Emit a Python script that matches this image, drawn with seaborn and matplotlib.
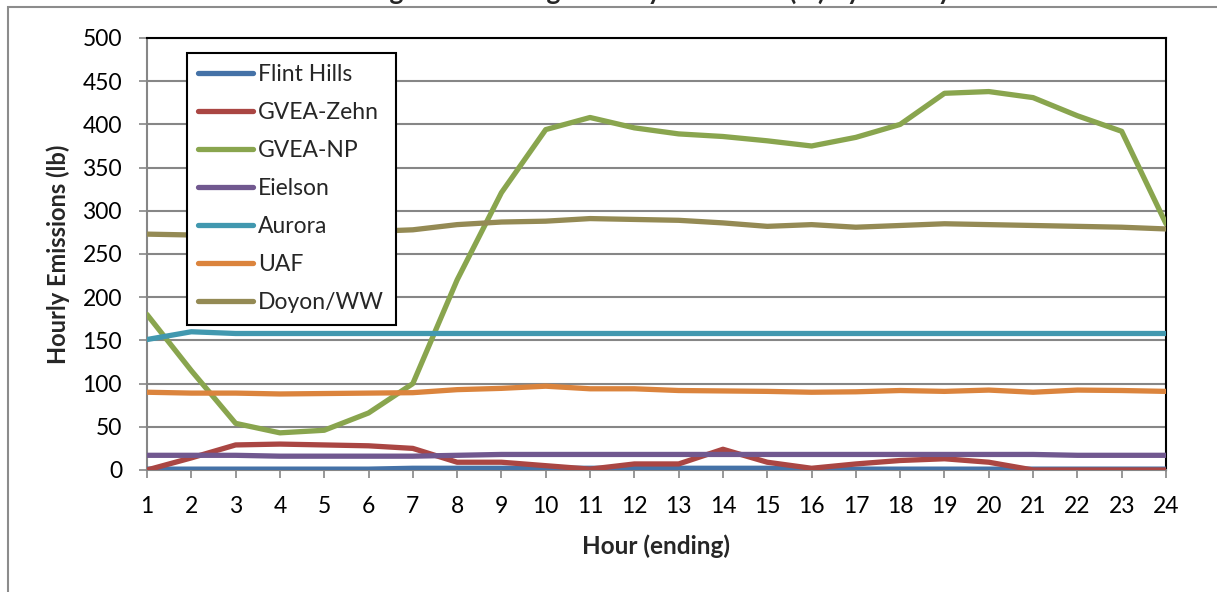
import pandas as pd
import seaborn as sns
import matplotlib.pyplot as plt
from matplotlib.patches import Rectangle

# ===============================
# Data
# ===============================

hours = list(range(1, 25))

flint_hills = [1, 1, 1, 1, 1, 1, 2, 2, 2, 2, 2, 2, 2, 2, 2, 1, 1, 1, 1, 1, 1, 1, 1, 1]
gvea_zehn = [0, 14, 29, 30, 29, 28, 25, 9, 9, 5, 1, 7, 7, 24, 9, 2, 7, 11, 13, 9, 0, 0, 0, 0]
gvea_np = [180, 115, 54, 43, 46, 66, 100, 220, 321, 394, 408, 396, 389, 386, 381, 375,
           385, 400, 436, 438, 431, 410, 392, 285]
eielson = [17, 17, 17, 16, 16, 16, 16, 17, 18, 18, 18, 18, 18, 18, 18, 18,
           18, 18, 18, 18, 18, 17, 17, 17]
aurora = [151, 160, 158, 158, 158, 158, 158, 158, 158, 158, 158, 158, 158, 158, 158, 158,
          158, 158, 158, 158, 158, 158, 158, 158]
uaf = [90, 89, 89, 88, 88.5, 89, 89.5, 93, 94.5, 97, 94, 94, 92, 91.5, 91, 90,
       90.5, 92, 91, 92.5, 90, 92.5, 92, 91]
doyon_ww = [273, 272, 272, 273, 274, 276, 278, 284, 287, 288, 291, 290, 289, 286, 282, 284,
            281, 283, 285, 284, 283, 282, 281, 279]

facilities = ["Flint Hills", "GVEA-Zehn", "GVEA-NP", "Eielson", "Aurora", "UAF", "Doyon/WW"]
series = [flint_hills, gvea_zehn, gvea_np, eielson, aurora, uaf, doyon_ww]
colors = ["#4572A7", "#AA4643", "#89A54E", "#71588F", "#4198AF", "#DB843D", "#948A54"]

rows = []
for name, vals in zip(facilities, series):
    for h, v in zip(hours, vals):
        rows.append({"Hour": h, "Emissions": v, "Facility": name})
data = pd.DataFrame(rows)

# ===============================
# Plot
# ===============================

sns.set_style("white")
plt.rcParams["font.family"] = ["Lato", "DejaVu Sans"]

fig = plt.figure(figsize=(12.17, 5.92), dpi=100)
ax = fig.add_axes([147 / 1217, 1 - 470 / 592, (1166 - 147) / 1217, (470 - 38) / 592])

sns.lineplot(data=data, x="Hour", y="Emissions", hue="Facility", hue_order=facilities,
             palette=colors, linewidth=3.8, ax=ax, zorder=3)

grid_col = "#868686"
ax.set_xlim(1, 24)
ax.set_ylim(0, 500)
ax.set_xticks(hours)
ax.set_yticks(range(0, 501, 50))
ax.yaxis.grid(True, color=grid_col, linewidth=1.5)
ax.xaxis.grid(False)
ax.set_axisbelow(True)

ax.tick_params(axis="both", direction="out", length=6, width=1.2, color=grid_col,
               labelsize=16.5, labelcolor="black")
ax.tick_params(axis="x", pad=13, bottom=True)
ax.tick_params(axis="y", pad=12, left=True)

for side in ["top", "right"]:
    ax.spines[side].set_color("black")
    ax.spines[side].set_linewidth(1.5)
for side in ["left", "bottom"]:
    ax.spines[side].set_color(grid_col)
    ax.spines[side].set_linewidth(1.5)

ax.set_xlabel("Hour (ending)", fontsize=17.5, fontweight="bold", labelpad=12)
ax.set_ylabel("Hourly Emissions (lb)", fontsize=17, fontweight="bold", labelpad=9)

leg = ax.legend(loc="upper left", bbox_to_anchor=(187 / 1217, 1 - 53 / 592),
                bbox_transform=fig.transFigure, fontsize=16.5, frameon=True, fancybox=False,
                edgecolor="black", framealpha=1, handlelength=2.4, handletextpad=0.2,
                labelspacing=0.74, borderpad=0.5, borderaxespad=0)
leg.get_frame().set_linewidth(1.5)
leg.set_zorder(5)

# outer chart border (clipped by the image edge)
fig.patches.append(Rectangle((8 / 1217, -0.1), 1.2, 1.1 - 6.5 / 592, transform=fig.transFigure,
                             fill=False, edgecolor="#8C8C8C", linewidth=1.5))

# title sits above the visible area, only its descenders show
fig.text(660 / 1217, 1.0, "Figure 6: Average Hourly Emissions (lb) by Facility",
         ha="center", va="baseline", fontsize=19, fontweight="bold")

fig.savefig("out.png", dpi=100)
